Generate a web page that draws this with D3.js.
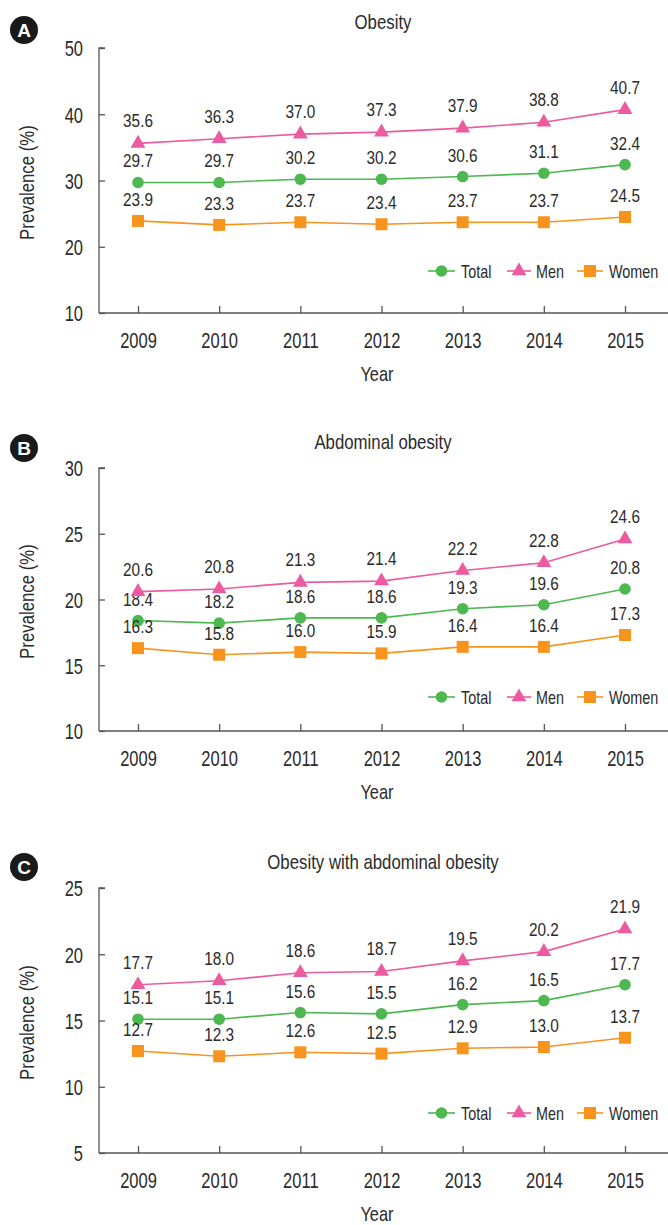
<!DOCTYPE html>
<html>
<head>
<meta charset="utf-8">
<script src="https://cdn.jsdelivr.net/npm/d3@7"></script>
<style>
  html, body { margin: 0; padding: 0; background: #fff; }
  svg text { font-family: "Liberation Sans", Arial, sans-serif; fill: #2b2b2b; }
</style>
</head>
<body>
<svg id="chart" width="668" height="1225"></svg>
<script>
// Prevalence (%) by year, 2009–2015
const years = [2009, 2010, 2011, 2012, 2013, 2014, 2015];

const obesityTotal = [29.7, 29.7, 30.2, 30.2, 30.6, 31.1, 32.4];
const obesityMen   = [35.6, 36.3, 37.0, 37.3, 37.9, 38.8, 40.7];
const obesityWomen = [23.9, 23.3, 23.7, 23.4, 23.7, 23.7, 24.5];

const abdominalTotal = [18.4, 18.2, 18.6, 18.6, 19.3, 19.6, 20.8];
const abdominalMen   = [20.6, 20.8, 21.3, 21.4, 22.2, 22.8, 24.6];
const abdominalWomen = [16.3, 15.8, 16.0, 15.9, 16.4, 16.4, 17.3];

const bothTotal = [15.1, 15.1, 15.6, 15.5, 16.2, 16.5, 17.7];
const bothMen   = [17.7, 18.0, 18.6, 18.7, 19.5, 20.2, 21.9];
const bothWomen = [12.7, 12.3, 12.6, 12.5, 12.9, 13.0, 13.7];

const seriesNames = ["Total", "Men", "Women"];
const panelLetters = ["A", "B", "C"];
const panelTitles = ["Obesity", "Abdominal obesity", "Obesity with abdominal obesity"];
const yTicksA = [10, 20, 30, 40, 50];
const yTicksB = [10, 15, 20, 25, 30];
const yTicksC = [5, 10, 15, 20, 25];

const colors = { Total: "#4cb84f", Men: "#ec5a9f", Women: "#f7941d" };

const panels = [
  { letter: panelLetters[0], title: panelTitles[0], ticks: yTicksA,
    data: { Total: obesityTotal, Men: obesityMen, Women: obesityWomen },
    top: 48, bottom: 313, titleY: 29, legendY: 271, badgeY: 30 },
  { letter: panelLetters[1], title: panelTitles[1], ticks: yTicksB,
    data: { Total: abdominalTotal, Men: abdominalMen, Women: abdominalWomen },
    top: 468, bottom: 731, titleY: 449, legendY: 697, badgeY: 448 },
  { letter: panelLetters[2], title: panelTitles[2], ticks: yTicksC,
    data: { Total: bothTotal, Men: bothMen, Women: bothWomen },
    top: 888, bottom: 1153, titleY: 869, legendY: 1113, badgeY: 867 }
];

const svg = d3.select("#chart");
const axisX = 99;
const rightEdge = 668;

const x = d3.scalePoint().domain(years).range([138, 625]);

// squeeze text horizontally (along its baseline) to give a condensed face
function condense(sel, k) {
  sel.each(function () {
    const t = d3.select(this);
    const tx = +t.attr("x") || 0;
    const ty = +t.attr("y") || 0;
    const base = t.attr("transform") || "";
    t.attr("x", 0).attr("y", 0)
      .attr("transform", `${base} translate(${tx},${ty}) scale(${k},1)`);
  });
}

function drawMarker(g, name, cx, cy) {
  const c = colors[name];
  if (name === "Total") {
    g.append("circle").attr("cx", cx).attr("cy", cy).attr("r", 5.8).attr("fill", c);
  } else if (name === "Men") {
    g.append("path")
      .attr("d", d3.symbol().type(d3.symbolTriangle).size(95)())
      .attr("transform", `translate(${cx},${cy})`)
      .attr("fill", c);
  } else {
    g.append("rect").attr("x", cx - 6).attr("y", cy - 6)
      .attr("width", 12).attr("height", 12).attr("fill", c);
  }
}

panels.forEach(p => {
  const g = svg.append("g");
  const y = d3.scaleLinear().domain(d3.extent(p.ticks)).range([p.bottom, p.top]);

  // panel badge
  g.append("circle").attr("cx", 24).attr("cy", p.badgeY).attr("r", 14).attr("fill", "#1a1a1a");
  g.append("text").attr("x", 24).attr("y", p.badgeY + 6.5)
    .attr("text-anchor", "middle").attr("font-size", 19).attr("font-weight", "bold")
    .style("fill", "#fff")
    .text(p.letter);

  // title
  g.append("text").attr("x", 383).attr("y", p.titleY)
    .attr("text-anchor", "middle").attr("font-size", 20).text(p.title)
    .call(condense, 0.84);

  // y axis
  const yAxis = g.append("g").attr("transform", `translate(${axisX},0)`)
    .call(d3.axisRight(y).tickValues(p.ticks).tickSize(6).tickFormat(d3.format("d")));
  yAxis.attr("font-family", null);
  yAxis.select(".domain").attr("stroke", "#555").attr("stroke-width", 1.3)
    .attr("d", `M6,${p.top}H0V${p.bottom}`);
  yAxis.selectAll(".tick line").attr("stroke", "#555").attr("stroke-width", 1.3);
  yAxis.selectAll(".tick text").attr("x", -16).attr("text-anchor", "end")
    .attr("font-size", 22).attr("dy", "0.36em").style("fill", "#2b2b2b")
    .call(condense, 0.75);

  // x axis
  const xAxis = g.append("g").attr("transform", `translate(0,${p.bottom})`)
    .call(d3.axisBottom(x).tickSize(0).tickFormat(d3.format("d")));
  xAxis.attr("font-family", null);
  xAxis.select(".domain").attr("stroke", "#555").attr("stroke-width", 1.3)
    .attr("d", `M${axisX},0H${rightEdge}`);
  xAxis.selectAll(".tick line").attr("y2", -7).attr("stroke", "#555").attr("stroke-width", 1.3);
  xAxis.selectAll(".tick text").attr("y", 35).attr("dy", 0)
    .attr("font-size", 22).style("fill", "#2b2b2b")
    .call(condense, 0.75);

  // axis labels
  g.append("text").attr("x", 377).attr("y", p.bottom + 68)
    .attr("text-anchor", "middle").attr("font-size", 20).text("Year")
    .call(condense, 0.82);
  const midY = (p.top + p.bottom) / 2 + 2;
  g.append("text").attr("transform", `translate(34,${midY}) rotate(-90)`)
    .attr("text-anchor", "middle").attr("font-size", 20).text("Prevalence (%)")
    .call(condense, 0.84);

  // series
  const line = d3.line().x((d, i) => x(years[i])).y(d => y(d));
  seriesNames.forEach(name => {
    const vals = p.data[name];
    g.append("path").datum(vals).attr("d", line)
      .attr("fill", "none").attr("stroke", colors[name]).attr("stroke-width", 1.6);
    vals.forEach((v, i) => {
      drawMarker(g, name, x(years[i]), y(v));
      g.append("text").attr("x", x(years[i]))
        .attr("y", y(v) - (name === "Men" ? 16 : 15))
        .attr("text-anchor", "middle").attr("font-size", 18.5)
        .text(v.toFixed(1))
        .call(condense, 0.83);
    });
  });

  // legend
  const legendItems = [
    { name: "Total", x0: 428, x1: 455, tx: 461 },
    { name: "Men", x0: 507, x1: 531, tx: 536 },
    { name: "Women", x0: 577, x1: 603, tx: 609 }
  ];
  legendItems.forEach(it => {
    g.append("line").attr("x1", it.x0).attr("x2", it.x1)
      .attr("y1", p.legendY).attr("y2", p.legendY)
      .attr("stroke", colors[it.name]).attr("stroke-width", 1.6);
    drawMarker(g, it.name, (it.x0 + it.x1) / 2, p.legendY);
    g.append("text").attr("x", it.tx).attr("y", p.legendY + 6.5)
      .attr("font-size", 18).text(it.name)
      .call(condense, 0.8);
  });
});
</script>
</body>
</html>
